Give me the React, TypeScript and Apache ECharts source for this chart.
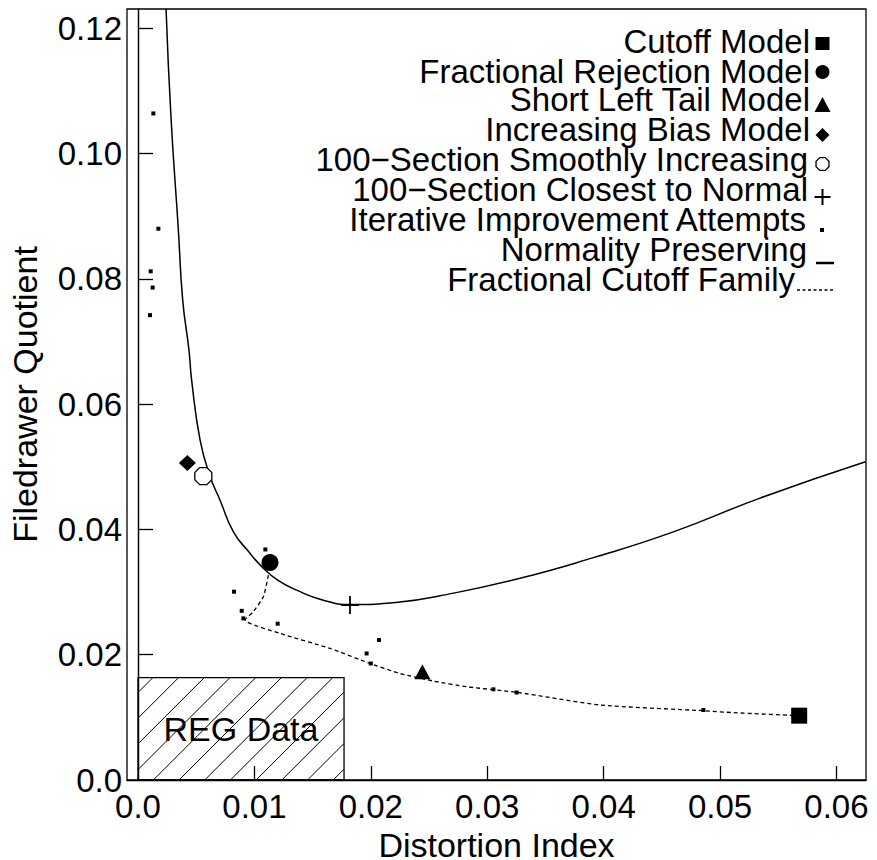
import React, { useEffect, useRef } from 'react';
import * as echarts from 'echarts';

const FONT = '"Liberation Sans", Arial, Helvetica, sans-serif';

// Tick values
const xTicks = [0, 0.01, 0.02, 0.03, 0.04, 0.05, 0.06];
const yTicks = [0, 0.02, 0.04, 0.06, 0.08, 0.1, 0.12];

// Model points [distortion index, filedrawer quotient]
const cutoffModel = [[0.0568, 0.01027]];
const fractionalRejectionModel = [[0.01134, 0.0347]];
const shortLeftTailModel = [[0.02443, 0.01729]];
const increasingBiasModel = [[0.00424, 0.0506]];
const smoothlyIncreasing = [[0.00561, 0.0485]];
const closestToNormal = [[0.01821, 0.02793]];

const iterativeAttempts = [
  [0.00132, 0.1064],
  [0.00175, 0.088],
  [0.00109, 0.0812],
  [0.00126, 0.0786],
  [0.00103, 0.0742],
  [0.01094, 0.0368],
  [0.00825, 0.03006],
  [0.00891, 0.027],
  [0.00905, 0.0258],
  [0.012, 0.02495],
  [0.0207, 0.02235],
  [0.01964, 0.0202],
  [0.02, 0.0186],
  [0.03053, 0.01447],
  [0.03253, 0.01397],
  [0.04857, 0.01117],
];

const normalityPreserving = [
  [0.00241, 0.1231],
  [0.00284, 0.1056],
  [0.00346, 0.088],
  [0.00384, 0.0766],
  [0.00438, 0.0686],
  [0.00461, 0.0638],
  [0.00533, 0.0543],
  [0.00619, 0.0485],
  [0.00704, 0.0447],
  [0.0082, 0.0396],
  [0.00948, 0.0365],
  [0.01077, 0.0338],
  [0.012, 0.0319],
  [0.01363, 0.0303],
  [0.01592, 0.0287],
  [0.01821, 0.028],
  [0.02251, 0.0284],
  [0.02595, 0.0294],
  [0.03282, 0.0322],
  [0.03912, 0.0355],
  [0.04599, 0.0396],
  [0.05344, 0.045],
  [0.0625, 0.0508],
];

const fractionalCutoffFamily = [
  [0.0112, 0.0327],
  [0.01077, 0.02926],
  [0.0099, 0.02687],
  [0.00919, 0.02554],
  [0.0122, 0.0234],
  [0.0165, 0.021],
  [0.01993, 0.0186],
  [0.0225, 0.017],
  [0.02537, 0.0158],
  [0.02823, 0.01489],
  [0.03253, 0.014],
  [0.0397, 0.01197],
  [0.04857, 0.01106],
  [0.05115, 0.01075],
  [0.0568, 0.01027],
];

const regDataX = [0, 0.0177];
const regDataY = [0, 0.01633];

const legendLabels = [
  'Cutoff Model',
  'Fractional Rejection Model',
  'Short Left Tail Model',
  'Increasing Bias Model',
  '100\u2212Section Smoothly Increasing',
  '100\u2212Section Closest to Normal',
  'Iterative Improvement Attempts',
  'Normality Preserving',
  'Fractional Cutoff Family',
];

const OCTAGON = 'path://M0.29,0 L0.71,0 L1,0.29 L1,0.71 L0.71,1 L0.29,1 L0,0.71 L0,0.29 Z';
const PLUS = 'path://M7.2,0 h1.6 v7.2 h7.2 v1.6 h-7.2 v7.2 h-1.6 v-7.2 h-7.2 v-1.6 h7.2 z';

function buildLegend() {
  const textRight = [810, 810, 810, 810, 808, 808, 806, 807, 795];
  const textY = [41, 71, 99, 129, 159, 189, 219, 249, 279];
  const els: any[] = legendLabels.map((t, i) => ({
    type: 'text',
    x: textRight[i],
    y: textY[i],
    silent: true,
    style: {
      text: t,
      fill: '#000',
      fontSize: 33,
      lineHeight: 28,
      fontFamily: FONT,
      align: 'right',
      verticalAlign: 'middle',
    },
  }));
  const cx = 822.5;
  els.push({ type: 'rect', shape: { x: cx - 7, y: 37, width: 14, height: 13 }, style: { fill: '#000' } });
  els.push({ type: 'circle', shape: { cx, cy: 72, r: 7 }, style: { fill: '#000' } });
  els.push({ type: 'polygon', shape: { points: [[cx, 97], [cx + 8, 112], [cx - 8, 112]] }, style: { fill: '#000' } });
  els.push({ type: 'polygon', shape: { points: [[cx, 128], [cx + 7, 135], [cx, 142], [cx - 7, 135]] }, style: { fill: '#000' } });
  const oct: number[][] = [];
  for (let k = 0; k < 8; k++) {
    const a = Math.PI / 8 + (k * Math.PI) / 4;
    oct.push([cx + 7 * Math.cos(a), 164 + 7 * Math.sin(a)]);
  }
  els.push({ type: 'polygon', shape: { points: oct }, style: { fill: '#fff', stroke: '#000', lineWidth: 1.3 } });
  els.push({ type: 'line', shape: { x1: cx - 8, y1: 197, x2: cx + 8, y2: 197 }, style: { stroke: '#000', lineWidth: 2 } });
  els.push({ type: 'line', shape: { x1: cx, y1: 189, x2: cx, y2: 205 }, style: { stroke: '#000', lineWidth: 2 } });
  els.push({ type: 'rect', shape: { x: cx - 2.5, y: 228, width: 4, height: 4 }, style: { fill: '#000' } });
  els.push({ type: 'line', shape: { x1: 816, y1: 263, x2: 834, y2: 263 }, style: { stroke: '#000', lineWidth: 2.5 } });
  els.push({ type: 'line', shape: { x1: 797, y1: 290, x2: 833, y2: 290 }, style: { stroke: '#000', lineWidth: 1.3, lineDash: [3, 2.5] } });
  return els;
}

const fmt = (v: number) => (Math.abs(v) < 1e-12 ? '0.0' : v.toFixed(2));

export default function App() {
  const ref = useRef<HTMLDivElement>(null);
  useEffect(() => {
    if (!ref.current) return;
    const chart = echarts.init(ref.current, undefined, { renderer: 'svg' });
    const markerBase = { type: 'scatter', z: 5 } as any;
    const solid = (c: string) => ({ color: c, opacity: 1 });
    const option: any = {
      animation: false,
      backgroundColor: '#fff',
      textStyle: { fontFamily: FONT },
      grid: {
        left: 127,
        right: 11,
        top: 9,
        bottom: 80,
        show: true,
        borderColor: '#000',
        borderWidth: 1.3,
        backgroundColor: 'transparent',
        containLabel: false,
        outerBoundsMode: 'none',
      },
      xAxis: {
        type: 'value',
        min: -0.000945,
        max: 0.06254,
        name: 'Distortion Index',
        nameLocation: 'middle',
        nameGap: 39,
        nameTextStyle: { color: '#000', fontSize: 34, lineHeight: 34, fontFamily: FONT },
        axisLine: { show: true, lineStyle: { color: '#000', width: 1.3 } },
        axisTick: { show: true, inside: true, length: 14, customValues: xTicks.slice(1), lineStyle: { color: '#000', width: 1.3 } },
        axisLabel: { customValues: xTicks, formatter: fmt, color: '#000', fontSize: 33, fontFamily: FONT, margin: 10 },
        splitLine: { show: false },
      },
      yAxis: {
        type: 'value',
        min: 0,
        max: 0.12307,
        name: 'Filedrawer Quotient',
        nameLocation: 'middle',
        nameGap: 85,
        nameTextStyle: { color: '#000', fontSize: 34, lineHeight: 34, fontFamily: FONT },
        axisLine: { show: true, lineStyle: { color: '#000', width: 1.3 } },
        axisTick: { show: true, inside: true, length: 15, customValues: yTicks.slice(1), lineStyle: { color: '#000', width: 1.3 } },
        axisLabel: { customValues: yTicks, formatter: fmt, color: '#000', fontSize: 33, fontFamily: FONT, margin: 5 },
        splitLine: { show: false },
      },
      graphic: buildLegend(),
      series: [
        {
          name: 'REG Data',
          type: 'custom',
          data: [[regDataX[0], regDataY[0], regDataX[1], regDataY[1]]],
          encode: { x: [0, 2], y: [1, 3] },
          z: 1,
          silent: true,
          renderItem: (params: any, api: any) => {
            const p0 = api.coord([api.value(0), api.value(1)]);
            const p1 = api.coord([api.value(2), api.value(3)]);
            const x0 = p0[0];
            const yb = p0[1];
            const x1 = p1[0];
            const yt = p1[1];
            const children: any[] = [];
            const step = 25.7;
            let k = x0 + yb + 15.3;
            while (k > x0 + yt) k -= step;
            for (; k < x1 + yb; k += step) {
              const xa = Math.max(x0, k - yb);
              const xb = Math.min(x1, k - yt);
              if (xb > xa) {
                children.push({
                  type: 'line',
                  shape: { x1: xa, y1: k - xa, x2: xb, y2: k - xb },
                  style: { stroke: '#000', lineWidth: 1 },
                });
              }
            }
            children.push({
              type: 'rect',
              shape: { x: x0, y: yt, width: x1 - x0, height: yb - yt },
              style: { fill: 'none', stroke: '#000', lineWidth: 1.3 },
            });
            children.push({
              type: 'text',
              style: {
                text: 'REG Data',
                x: (x0 + x1) / 2,
                y: (yt + yb) / 2,
                align: 'center',
                verticalAlign: 'middle',
                fontSize: 34,
                fontFamily: FONT,
                fill: '#000',
              },
            });
            return { type: 'group', children };
          },
        },
        {
          name: 'Normality Preserving',
          type: 'line',
          data: normalityPreserving,
          smooth: true,
          symbol: 'none',
          lineStyle: { color: '#000', width: 1.5 },
          z: 3,
          markLine: {
            silent: true,
            symbol: 'none',
            label: { show: false },
            lineStyle: { color: '#000', width: 1.2, type: 'solid' },
            data: [{ xAxis: 0 }],
          },
        },
        {
          name: 'Fractional Cutoff Family',
          type: 'line',
          data: fractionalCutoffFamily,
          smooth: 0.2,
          symbol: 'none',
          lineStyle: { color: '#000', width: 1.3, type: [4, 3] },
          z: 3,
        },
        { ...markerBase, name: 'Iterative Improvement Attempts', data: iterativeAttempts, symbol: 'rect', symbolSize: 4, itemStyle: solid('#000') },
        { ...markerBase, name: 'Cutoff Model', data: cutoffModel, symbol: 'rect', symbolSize: 16, itemStyle: solid('#000') },
        { ...markerBase, name: 'Fractional Rejection Model', data: fractionalRejectionModel, symbol: 'circle', symbolSize: 17, itemStyle: solid('#000') },
        { ...markerBase, name: 'Short Left Tail Model', data: shortLeftTailModel, symbol: 'triangle', symbolSize: [16, 15], itemStyle: solid('#000') },
        { ...markerBase, name: 'Increasing Bias Model', data: increasingBiasModel, symbol: 'diamond', symbolSize: [17, 16], itemStyle: solid('#000') },
        { ...markerBase, name: '100-Section Smoothly Increasing', data: smoothlyIncreasing, symbol: OCTAGON, symbolSize: 17, itemStyle: { color: '#fff', opacity: 1, borderColor: '#000', borderWidth: 1.3 } },
        { ...markerBase, name: '100-Section Closest to Normal', data: closestToNormal, symbol: PLUS, symbolSize: 18, itemStyle: solid('#000') },
      ],
    };
    chart.setOption(option);
    return () => chart.dispose();
  }, []);
  return <div ref={ref} style={{ position: 'fixed', left: 0, top: 0, width: 877, height: 860 }} />;
}
